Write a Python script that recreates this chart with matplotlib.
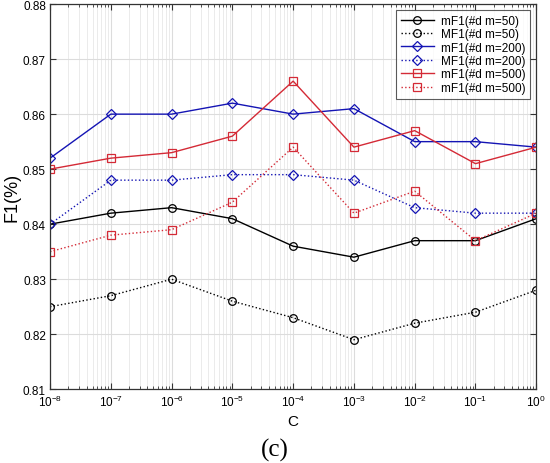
import numpy as np
import matplotlib
matplotlib.use("Agg")
import matplotlib.pyplot as plt
from matplotlib.ticker import LogLocator, NullFormatter, FixedLocator

c_vals = [1e-8, 1e-7, 1e-6, 1e-5, 1e-4, 1e-3, 1e-2, 1e-1, 1e0]

mf1_50 = [0.840, 0.842, 0.843, 0.841, 0.836, 0.834, 0.837, 0.837, 0.841]
MF1_50 = [0.825, 0.827, 0.830, 0.826, 0.823, 0.819, 0.822, 0.824, 0.828]
mf1_200 = [0.852, 0.860, 0.860, 0.862, 0.860, 0.861, 0.855, 0.855, 0.854]
MF1_200 = [0.840, 0.848, 0.848, 0.849, 0.849, 0.848, 0.843, 0.842, 0.842]
mf1_500 = [0.850, 0.852, 0.853, 0.856, 0.866, 0.854, 0.857, 0.851, 0.854]
MF1_500 = [0.835, 0.838, 0.839, 0.844, 0.854, 0.842, 0.846, 0.837, 0.842]

labels = ["mF1(#d m=50)", "MF1(#d m=50)", "mF1(#d m=200)",
          "MF1(#d m=200)", "mF1(#d m=500)", "mF1(#d m=500)"]

y_ticks = [0.81, 0.82, 0.83, 0.84, 0.85, 0.86, 0.87, 0.88]

plt.rcParams['font.family'] = ['Liberation Sans', 'DejaVu Sans']

fig = plt.figure(figsize=(5.5, 4.64), dpi=100)
ax = fig.add_axes([0.091, 0.159, 0.884, 0.830])

BLUE = "#1414b4"
RED = "#d42a36"
series = [
    (mf1_50, "black", "-", "o", 5.5),
    (MF1_50, "black", ":", "o", 5.5),
    (mf1_200, BLUE, "-", "D", 4.8),
    (MF1_200, BLUE, ":", "D", 4.8),
    (mf1_500, RED, "-", "s", 5.2),
    (MF1_500, RED, ":", "s", 5.2),
]
for (vals, col, ls, mk, ms), lab in zip(series, labels):
    ax.plot(c_vals, vals, color=col, ls=ls, lw=1.0, marker=mk, ms=ms,
            mfc="none", mec=col, mew=0.9, label=lab)

ax.set_xscale("log")
ax.set_xlim(1e-8, 1)
ax.set_ylim(0.81, 0.88)
ax.xaxis.set_major_locator(FixedLocator(c_vals))
ax.xaxis.set_minor_locator(LogLocator(base=10, subs=np.arange(2, 10), numticks=20))
ax.xaxis.set_minor_formatter(NullFormatter())
ax.set_yticks(y_ticks)
ax.set_yticklabels(["%.2f" % v for v in y_ticks])

ax.grid(True, which="major", color="#dcdcdc", lw=0.8)
ax.grid(True, which="minor", axis="x", color="#e8e8e8", lw=0.6)
ax.set_axisbelow(True)

ax.tick_params(which="both", direction="in", top=True, right=True,
               labelsize=8.5, color="#333333", pad=3)
ax.tick_params(which="major", length=4)
ax.tick_params(which="minor", length=2)
for s in ax.spines.values():
    s.set_color("#333333")
    s.set_linewidth(0.9)

ax.set_xlabel("C", fontsize=11, labelpad=4)
ax.set_ylabel("F1(%)", fontsize=13, labelpad=2)

leg = ax.legend(loc="upper right", fontsize=8.5, frameon=True, fancybox=False,
                edgecolor="#333333", handlelength=2.8, borderaxespad=0.5,
                labelspacing=0.12, handletextpad=0.6, borderpad=0.4)
leg.get_frame().set_linewidth(0.8)

fig.text(0.5, 0.005, "(c)", ha="center", va="bottom", fontsize=18,
         family=["Liberation Serif", "DejaVu Serif"])

fig.savefig("out.png", dpi=100)
